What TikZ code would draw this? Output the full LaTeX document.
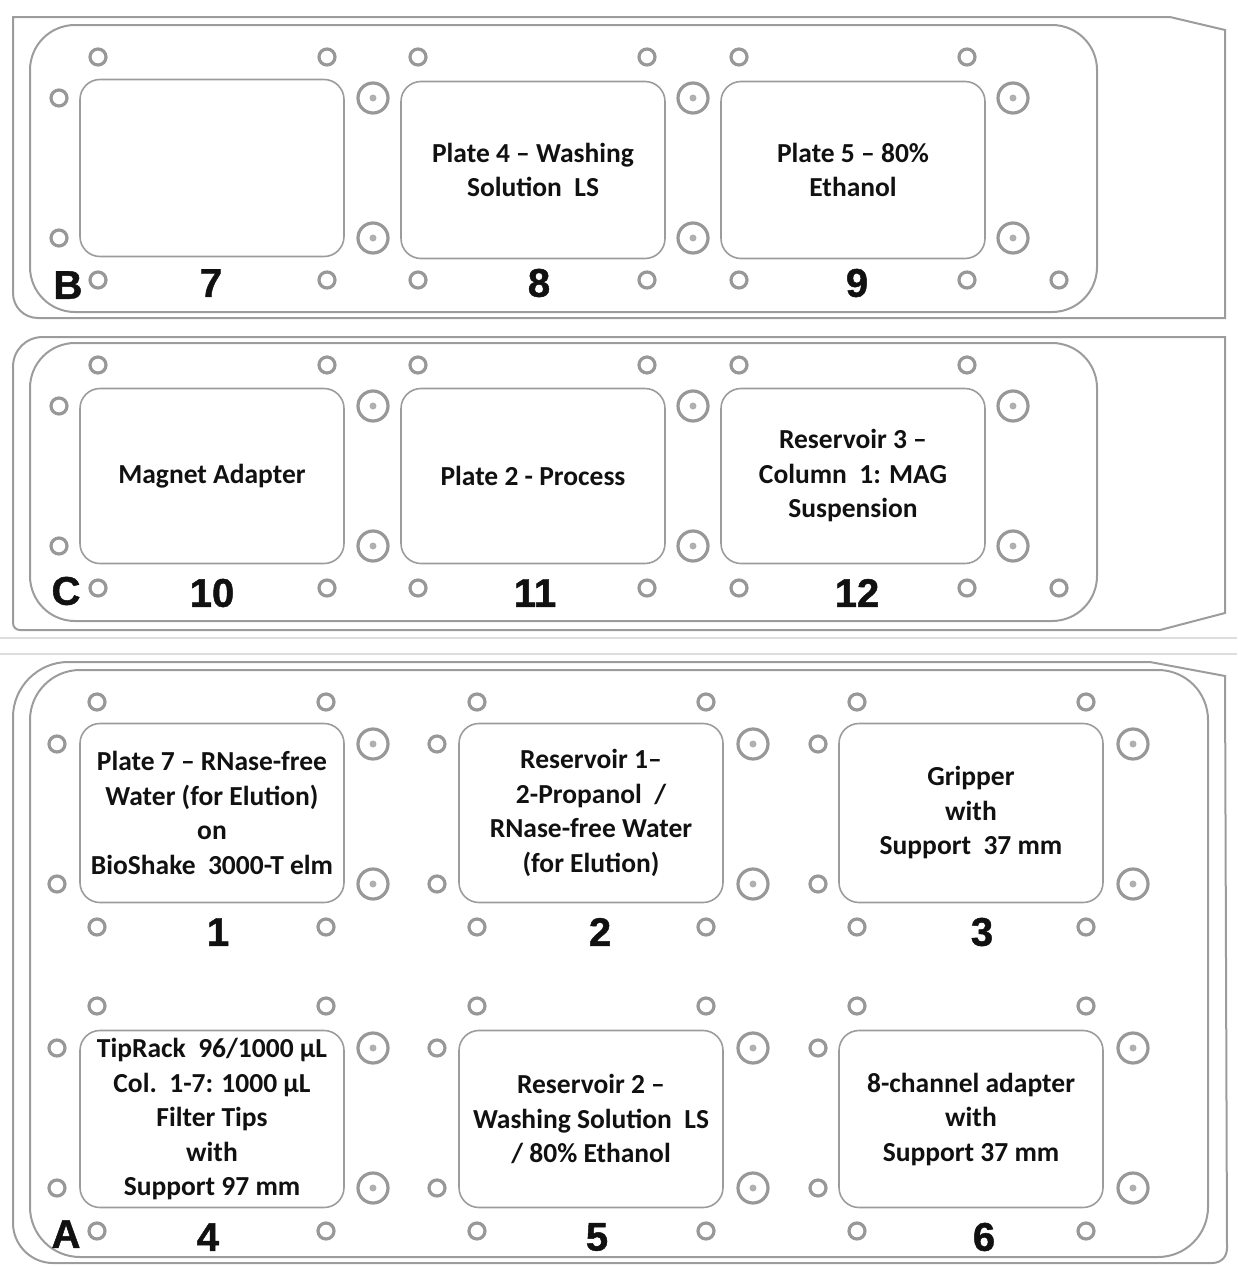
\documentclass[tikz,border=0pt]{standalone}
\usepackage{fontspec}
\setmainfont{Carlito}
\newfontfamily\numfont{Liberation Sans}[BoldFeatures={FakeBold=1.2}]
\definecolor{ink}{HTML}{111111}
\definecolor{rim}{HTML}{9C9C9C}
\definecolor{bore}{HTML}{989898}
\definecolor{pegdot}{HTML}{B0B0B0}
\definecolor{seam}{HTML}{DDDDDD}
\tikzset{
  slot/.style={draw=rim, line width=1.6pt, rounded corners=20pt, minimum width=264pt, minimum height=177pt, inner sep=0pt, align=center, font=\fontsize{27.5}{34.5}\selectfont\bfseries, text=ink},
  num/.style={font=\numfont\fontsize{40}{40}\selectfont\bfseries, text=ink, inner sep=0pt},
  hole/.style={draw=bore, line width=3.2pt},
  peg/.style={fill=pegdot},
  rimline/.style={draw=rim, line width=2pt},
  seamline/.style={draw=seam, line width=1.5pt},
}

\begin{document}
\begin{tikzpicture}[x=1pt, y=-1pt]
\useasboundingbox (0,0) rectangle (1237,1266);

% ---------------- deck outlines ----------------
\draw[rimline] (13,17) -- (1170,17) -- (1225,30) -- (1225,318) -- (38,318) .. controls (24,318) and (13,307) .. (13,293) -- cycle;
\draw[rimline, rounded corners=45pt] (30,25) rectangle (1097,312);
\draw[rimline] (43,337) -- (1225,337) -- (1225,613) -- (1160,630) -- (20,630) .. controls (16,630) and (13,627) .. (13,623) -- (13,367) .. controls (13,350) and (26,337) .. (43,337) -- cycle;
\draw[rimline, rounded corners=45pt] (30,343) rectangle (1097,621);
\draw[seamline] (0,638) -- (1237,638);
\draw[seamline] (0,654) -- (1237,654);
\draw[rimline] (68,662) -- (1150,662) -- (1225,676) -- (1227,1248) .. controls (1227,1256) and (1222,1263) .. (1212,1263) -- (53,1263) .. controls (31,1263) and (13,1245) .. (13,1223) -- (13,717) .. controls (13,687) and (38,662) .. (68,662) -- cycle;
\draw[rimline, rounded corners=50pt] (30,670) rectangle (1208,1257);

% ---------------- holes, decks B and C ----------------
\foreach \oy in {0,308} {
  \foreach \x/\y in {98/57, 327/57, 418/57, 647/57, 739/57, 967/57, 59/98, 59/238,
                     98/280, 327/280, 418/280, 647/280, 739/280, 967/280, 1059/280}
    \draw[hole] (\x,{\y+\oy}) circle[radius=8pt];
  \foreach \x/\y in {373/98, 373/238, 693/98, 693/238, 1013/98, 1013/238} {
    \draw[hole] (\x,{\y+\oy}) circle[radius=15pt];
    \path[peg] (\x,{\y+\oy}) circle[radius=3.5pt];
  }
}

% ---------------- holes, deck A ----------------
\foreach \oy in {0,304} {
  \foreach \x/\y in {97/702, 326/702, 477/702, 706/702, 857/702, 1086/702,
                     57/744, 57/884, 437/744, 437/884, 818/744, 818/884,
                     97/927, 326/927, 477/927, 706/927, 857/927, 1086/927}
    \draw[hole] (\x,{\y+\oy}) circle[radius=8pt];
  \foreach \x/\y in {373/744, 373/884, 753/744, 753/884, 1133/744, 1133/884} {
    \draw[hole] (\x,{\y+\oy}) circle[radius=15pt];
    \path[peg] (\x,{\y+\oy}) circle[radius=3.5pt];
  }
}

% ---------------- deck B ----------------
\node[slot] (s7) at (212,168) {};
\node[slot] (s8) at (533,170) {Plate 4 -- Washing\\Solution\ \ LS};
\node[slot] (s9) at (853,170) {Plate 5 -- 80\%\\Ethanol};

% ---------------- deck C ----------------
\node[slot, minimum height=175pt] (s10) at (212,476) {Magnet Adapter};
\node[slot, minimum height=175pt] (s11) at (533,476) {Plate 2 - Process};
\node[slot, minimum height=175pt] (s12) at (853,476) {Reservoir 3 --\\Column\ \ 1: MAG\\Suspension};

% ---------------- deck A ----------------
\node[slot, minimum height=179pt] (s1) at (212,813) {Plate 7 -- RNase-free\\Water (for Elution)\\on\\BioShake\ \ 3000-T elm};
\node[slot, minimum height=179pt] (s2) at (591,813) {Reservoir 1--\\2-Propanol\ \ /\\RNase-free Water\\(for Elution)};
\node[slot, minimum height=179pt] (s3) at (971,813) {Gripper\\with\\Support\ \ 37 mm};
\node[slot] (s4) at (212,1119) {TipRack\ \ 96/1000 µL\\Col.\ \ 1-7: 1000 µL\\Filter Tips\\with\\Support 97 mm};
\node[slot] (s5) at (591,1119) {Reservoir 2 --\\Washing Solution\ \ LS\\/ 80\% Ethanol};
\node[slot] (s6) at (971,1119) {8-channel adapter\\with\\Support 37 mm};

% ---------------- position numbers ----------------
\node[num] (dB) at (68,285) {B};
\node[num] (n7) at (211,283) {7};
\node[num] (n8) at (539,283) {8};
\node[num] (n9) at (857,283) {9};
\node[num] (dC) at (66,591) {C};
\node[num] (n10) at (212,593) {10};
\node[num] (n11) at (535,593) {11};
\node[num] (n12) at (857,593) {12};
\node[num] (n1) at (218,932) {1};
\node[num] (n2) at (600,932) {2};
\node[num] (n3) at (982,932) {3};
\node[num] (dA) at (66,1234) {A};
\node[num] (n4) at (208,1237) {4};
\node[num] (n5) at (597,1237) {5};
\node[num] (n6) at (984,1237) {6};

\end{tikzpicture}
\end{document}
